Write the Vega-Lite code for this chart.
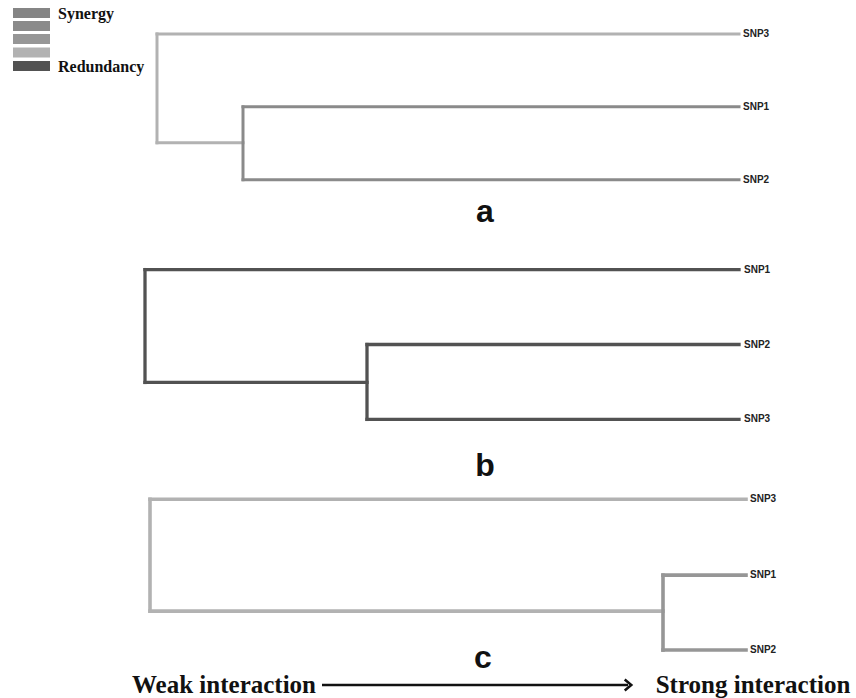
{
  "$schema": "https://vega.github.io/schema/vega-lite/v6.json",
  "width": 856,
  "height": 698,
  "padding": 0,
  "autosize": {"type": "fit", "contains": "padding"},
  "background": "white",
  "config": {"view": {"stroke": null}},
  "datasets": {
    "segments": [
      {"panel": "a", "x": 157, "x2": 739, "y": 34, "y2": 34, "level": 4},
      {"panel": "a", "x": 157, "x2": 157, "y": 34, "y2": 143, "level": 4},
      {"panel": "a", "x": 157, "x2": 243, "y": 143, "y2": 143, "level": 4},
      {"panel": "a", "x": 243, "x2": 243, "y": 107, "y2": 180, "level": 2},
      {"panel": "a", "x": 243, "x2": 739, "y": 107, "y2": 107, "level": 2},
      {"panel": "a", "x": 243, "x2": 739, "y": 180, "y2": 180, "level": 2},
      {"panel": "b", "x": 145, "x2": 739, "y": 270, "y2": 270, "level": 5},
      {"panel": "b", "x": 145, "x2": 145, "y": 270, "y2": 383, "level": 5},
      {"panel": "b", "x": 145, "x2": 367, "y": 383, "y2": 383, "level": 5},
      {"panel": "b", "x": 367, "x2": 367, "y": 345, "y2": 420, "level": 5},
      {"panel": "b", "x": 367, "x2": 739, "y": 345, "y2": 345, "level": 5},
      {"panel": "b", "x": 367, "x2": 739, "y": 420, "y2": 420, "level": 5},
      {"panel": "c", "x": 150, "x2": 746, "y": 500, "y2": 500, "level": 4},
      {"panel": "c", "x": 150, "x2": 150, "y": 500, "y2": 612, "level": 4},
      {"panel": "c", "x": 150, "x2": 663, "y": 612, "y2": 612, "level": 4},
      {"panel": "c", "x": 663, "x2": 663, "y": 576, "y2": 651, "level": 3},
      {"panel": "c", "x": 663, "x2": 746, "y": 576, "y2": 576, "level": 3},
      {"panel": "c", "x": 663, "x2": 746, "y": 651, "y2": 651, "level": 3}
    ],
    "leaves": [
      {"panel": "a", "label": "SNP3", "x": 743, "y": 34},
      {"panel": "a", "label": "SNP1", "x": 743, "y": 107},
      {"panel": "a", "label": "SNP2", "x": 743, "y": 180},
      {"panel": "b", "label": "SNP1", "x": 744, "y": 270},
      {"panel": "b", "label": "SNP2", "x": 744, "y": 345},
      {"panel": "b", "label": "SNP3", "x": 744, "y": 420},
      {"panel": "c", "label": "SNP3", "x": 750, "y": 500},
      {"panel": "c", "label": "SNP1", "x": 750, "y": 576},
      {"panel": "c", "label": "SNP2", "x": 750, "y": 651}
    ],
    "panels": [
      {"label": "a", "x": 485, "y": 222},
      {"label": "b", "x": 485, "y": 477},
      {"label": "c", "x": 483, "y": 669}
    ],
    "legend": [
      {"level": 1, "x": 13, "x2": 50, "y": 8, "y2": 18},
      {"level": 2, "x": 13, "x2": 50, "y": 21, "y2": 31},
      {"level": 3, "x": 13, "x2": 50, "y": 34, "y2": 44},
      {"level": 4, "x": 13, "x2": 50, "y": 47.5, "y2": 57.5},
      {"level": 5, "x": 13, "x2": 50, "y": 61, "y2": 71}
    ],
    "legendText": [
      {"label": "Synergy", "x": 58, "y": 14},
      {"label": "Redundancy", "x": 58, "y": 67}
    ],
    "caption": [
      {"label": "Weak interaction", "x": 224, "y": 686},
      {"label": "Strong interaction", "x": 753, "y": 686}
    ],
    "arrow": [
      {"x": 322, "x2": 628, "y": 686, "y2": 686}
    ]
  },
  "layer": [
    {
      "data": {"name": "segments"},
      "mark": {"type": "rule", "strokeCap": "square"},
      "encoding": {
        "x": {"field": "x", "type": "quantitative", "scale": {"domain": [0, 856], "nice": false, "zero": false}, "axis": null},
        "x2": {"field": "x2"},
        "y": {"field": "y", "type": "quantitative", "scale": {"domain": [0, 698], "nice": false, "zero": false, "reverse": true}, "axis": null},
        "y2": {"field": "y2"},
        "color": {"field": "level", "type": "ordinal", "scale": {"domain": [1, 2, 3, 4, 5], "range": ["#858585", "#8a8a8a", "#969696", "#b2b2b2", "#525252"]}, "legend": null},
        "strokeWidth": {"field": "panel", "type": "nominal", "scale": {"domain": ["a", "b", "c"], "range": [3, 3.6, 3]}, "legend": null}
      }
    },
    {
      "data": {"name": "legend"},
      "mark": {"type": "rect"},
      "encoding": {
        "x": {"field": "x", "type": "quantitative"},
        "x2": {"field": "x2"},
        "y": {"field": "y", "type": "quantitative"},
        "y2": {"field": "y2"},
        "color": {"field": "level", "type": "ordinal", "legend": null}
      }
    },
    {
      "data": {"name": "legendText"},
      "mark": {"type": "text", "align": "left", "baseline": "middle", "font": "Liberation Serif", "fontWeight": "bold", "fontSize": 16, "color": "#111"},
      "encoding": {
        "x": {"field": "x", "type": "quantitative"},
        "y": {"field": "y", "type": "quantitative"},
        "text": {"field": "label"}
      }
    },
    {
      "data": {"name": "leaves"},
      "mark": {"type": "text", "align": "left", "baseline": "middle", "font": "Liberation Sans", "fontWeight": "bold", "fontSize": 10, "color": "#222"},
      "encoding": {
        "x": {"field": "x", "type": "quantitative"},
        "y": {"field": "y", "type": "quantitative"},
        "text": {"field": "label"}
      }
    },
    {
      "data": {"name": "panels"},
      "mark": {"type": "text", "align": "center", "baseline": "alphabetic", "font": "Liberation Sans", "fontWeight": "bold", "fontSize": 32, "color": "#111"},
      "encoding": {
        "x": {"field": "x", "type": "quantitative"},
        "y": {"field": "y", "type": "quantitative"},
        "text": {"field": "label"}
      }
    },
    {
      "data": {"name": "caption"},
      "mark": {"type": "text", "align": "center", "baseline": "middle", "font": "Liberation Serif", "fontWeight": "bold", "fontSize": 25, "color": "#111"},
      "encoding": {
        "x": {"field": "x", "type": "quantitative"},
        "y": {"field": "y", "type": "quantitative"},
        "text": {"field": "label"}
      }
    },
    {
      "data": {"name": "arrow"},
      "mark": {"type": "rule", "strokeWidth": 2.5, "color": "#111"},
      "encoding": {
        "x": {"field": "x", "type": "quantitative"},
        "x2": {"field": "x2"},
        "y": {"field": "y", "type": "quantitative"},
        "y2": {"field": "y2"}
      }
    },
    {
      "data": {"name": "arrow"},
      "mark": {"type": "point", "shape": "M-0.6,-1L0.6,0L-0.6,1", "filled": false, "stroke": "#111", "strokeWidth": 2.5, "size": 120, "opacity": 1},
      "encoding": {
        "x": {"field": "x2", "type": "quantitative"},
        "y": {"field": "y", "type": "quantitative"}
      }
    }
  ]
}
